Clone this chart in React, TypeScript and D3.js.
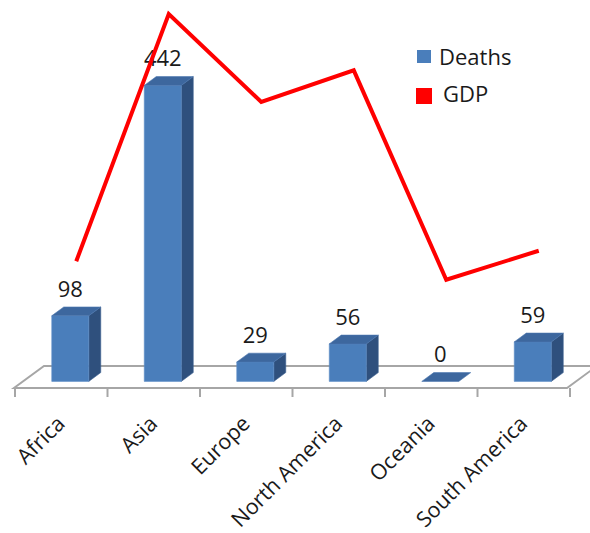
import React from "react";
import * as d3 from "d3";

const categories = ["Africa", "Asia", "Europe", "North America", "Oceania", "South America"];
const deaths = [98, 442, 29, 56, 0, 59];
const gdp = [4.4, 32.5, 22.5, 26.1, 2.3, 5.6];
const legendItems = ["Deaths", "GDP"];

const W = 590;
const H = 533;
const FONT = "'Open Sans', 'Liberation Sans', sans-serif";

// floor geometry: front edge and how far the depth axis runs back
const floorY = 388;
const floorLeft = 15;
const floorRight = 570;
const depthDx = 30;
const depthDy = 22;
const zFront = 0.3;
const zBack = 0.7;

export default function App() {
  const x = d3.scaleBand<string>().domain(categories).range([floorLeft, floorRight]).paddingInner(0).paddingOuter(0);
  const barW = x.bandwidth() * 0.4;
  const h = d3.scaleLinear().domain([0, 442]).range([0, 296]);
  const gy = d3.scaleLinear().domain([0, 30]).range([300, 36]);

  const proj = (px: number, val: number, z: number): [number, number] => [
    px + z * depthDx,
    floorY - z * depthDy - h(val),
  ];
  const poly = (pts: [number, number][]) => pts.map((p) => p.join(",")).join(" ");

  const floorPts: [number, number][] = [
    [floorLeft - 1, floorY],
    [floorRight - 3, floorY],
    [floorRight - 3 + depthDx, floorY - depthDy],
    [floorLeft - 1 + depthDx, floorY - depthDy],
  ];

  const ticks = d3.range(categories.length + 1).map((i) => floorLeft + i * x.bandwidth());

  const line = d3
    .line<number>()
    .x((_, i) => (x(categories[i]) as number) + x.bandwidth() / 2 + 15)
    .y((d) => gy(d));

  return (
    <svg width={W} height={H} style={{ position: "absolute", left: 0, top: 0, background: "#fff" }}>
      <polygon points={poly(floorPts)} fill="#fff" stroke="#a6a6a6" strokeWidth={2} />
      {ticks.map((t, i) => (
        <line key={i} x1={t} x2={t} y1={floorY} y2={floorY + 9} stroke="#a6a6a6" strokeWidth={2} />
      ))}

      {categories.map((c, i) => {
        const cx = (x(c) as number) + x.bandwidth() / 2;
        const x0 = cx - barW / 2;
        const x1 = cx + barW / 2;
        const v = deaths[i];
        const fbl = proj(x0, 0, zFront);
        const fbr = proj(x1, 0, zFront);
        const ftl = proj(x0, v, zFront);
        const ftr = proj(x1, v, zFront);
        const btl = proj(x0, v, zBack);
        const btr = proj(x1, v, zBack);
        const bbr = proj(x1, 0, zBack);
        return (
          <g key={c}>
            {v > 0 && (
              <polygon points={poly([fbr, ftr, btr, bbr])} fill="#2f507d" stroke="#3a5f90" strokeWidth={0.6} />
            )}
            {v > 0 && (
              <polygon points={poly([fbl, fbr, ftr, ftl])} fill="#4a7ebb" stroke="#5f8fc8" strokeWidth={0.6} />
            )}
            <polygon points={poly([ftl, ftr, btr, btl])} fill="#3d679e" stroke="#4a76ae" strokeWidth={0.6} />
            <text
              x={(fbl[0] + fbr[0]) / 2}
              y={ftl[1] - 19}
              textAnchor="middle"
              fontFamily={FONT}
              fontSize={22}
              fill="#1a1a1a"
            >
              {v}
            </text>
          </g>
        );
      })}

      <path d={line(gdp) as string} fill="none" stroke="#ff0000" strokeWidth={4} strokeLinejoin="miter" />

      {categories.map((c) => {
        const ex = (x(c) as number) + x.bandwidth() / 2 + 5;
        const ey = 425;
        return (
          <text
            key={c}
            x={ex}
            y={ey}
            textAnchor="end"
            transform={`rotate(-45 ${ex} ${ey})`}
            fontFamily={FONT}
            fontSize={21.5}
            fill="#1a1a1a"
          >
            {c}
          </text>
        );
      })}

      <g>
        <rect x={417} y={50} width={14} height={13} fill="#4a7ebb" />
        <text x={439} y={65} fontFamily={FONT} fontSize={22} fill="#1a1a1a">
          {legendItems[0]}
        </text>
        <rect x={416} y={88} width={16} height={16} fill="#ff0000" />
        <text x={443} y={102} fontFamily={FONT} fontSize={22} fill="#1a1a1a">
          {legendItems[1]}
        </text>
      </g>
    </svg>
  );
}
